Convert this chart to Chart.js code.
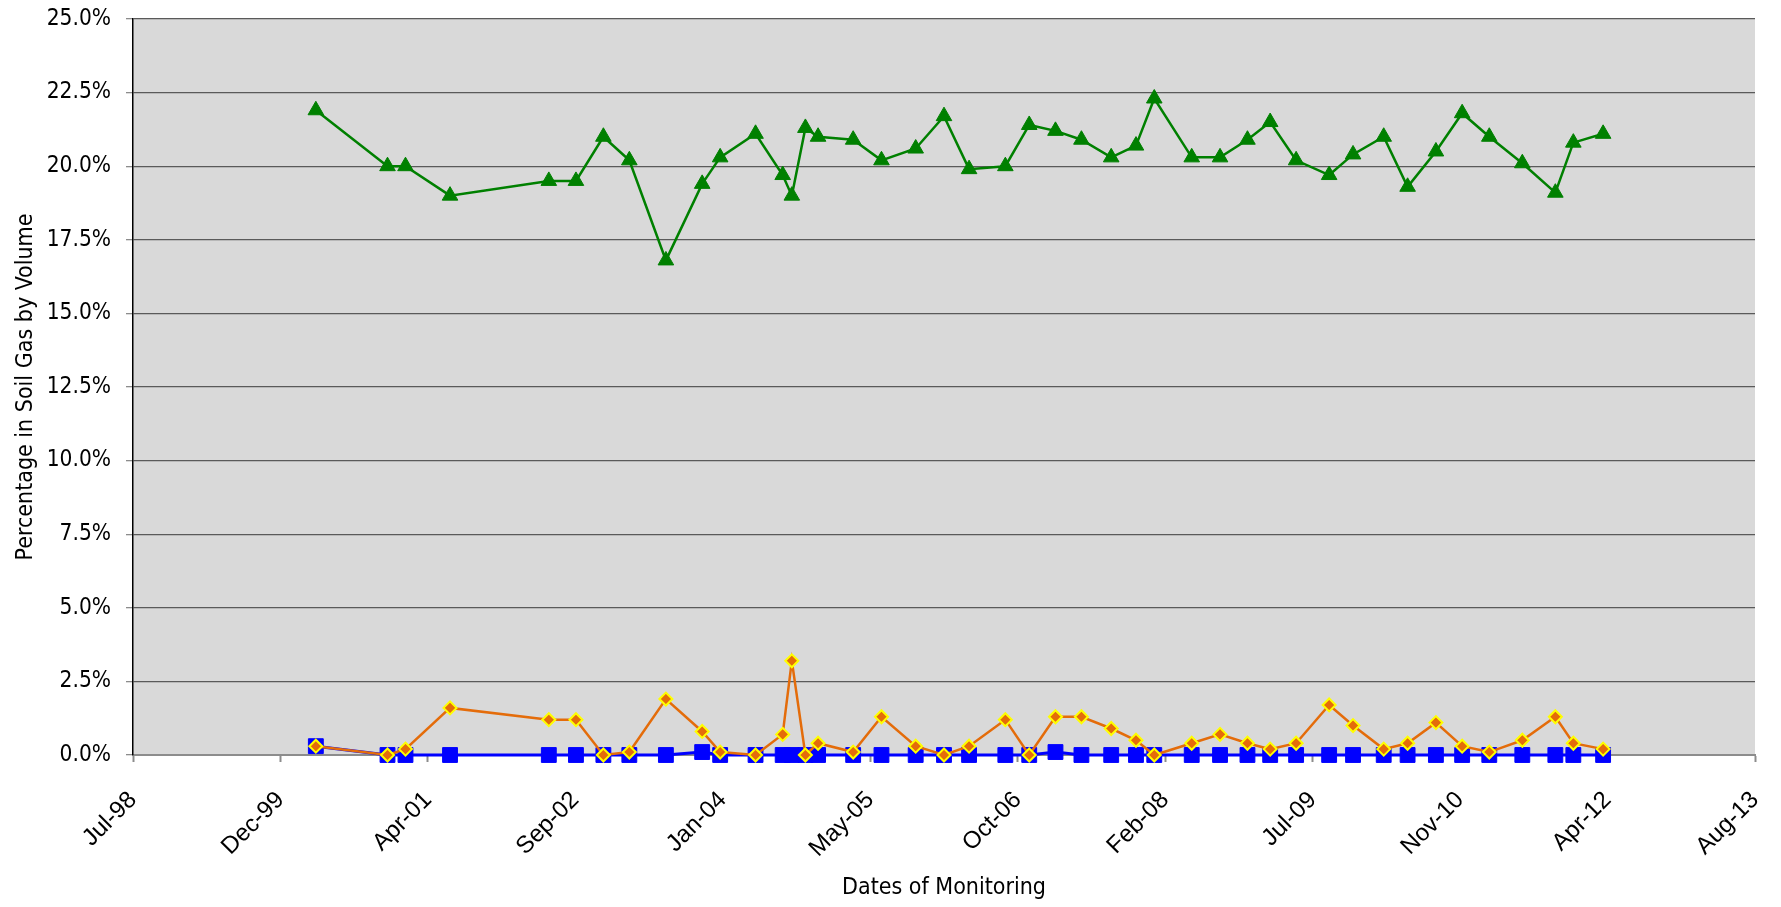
<!DOCTYPE html>
<html>
<head>
<meta charset="utf-8">
<script src="https://cdn.jsdelivr.net/npm/chart.js@4.4.1/dist/chart.umd.min.js"></script>
<style>
  html, body { margin: 0; padding: 0; background: #fff; }
  canvas { display: block; }
</style>
</head>
<body>
<canvas id="myChart" width="1781" height="907"></canvas>
<script>
// monitoring dates
const dates = [
    "2000-04-04", "2000-12-03", "2001-02-02", "2001-07-03", "2002-06-03", "2002-09-03",
    "2002-12-05", "2003-03-03", "2003-07-05", "2003-11-05", "2004-01-05", "2004-05-04",
    "2004-08-04", "2004-09-04", "2004-10-20", "2004-12-02", "2005-03-31", "2005-07-05",
    "2005-10-29", "2006-02-02", "2006-04-28", "2006-08-29", "2006-11-18", "2007-02-15",
    "2007-05-14", "2007-08-23", "2007-11-15", "2008-01-16", "2008-05-22", "2008-08-26",
    "2008-11-27", "2009-02-12", "2009-05-11", "2009-08-31", "2009-11-20", "2010-03-04",
    "2010-05-24", "2010-08-28", "2010-11-25", "2011-02-25", "2011-06-17", "2011-10-07",
    "2011-12-07", "2012-03-17"
];
// percent by volume
const oxygen = [
    21.9, 20.0, 20.0, 19.0, 19.5, 19.5, 21.0, 20.2, 16.8, 19.4, 20.3, 21.1,
    19.7, 19.0, 21.3, 21.0, 20.9, 20.2, 20.6, 21.7, 19.9, 20.0, 21.4, 21.2,
    20.9, 20.3, 20.7, 22.3, 20.3, 20.3, 20.9, 21.5, 20.2, 19.7, 20.4, 21.0,
    19.3, 20.5, 21.8, 21.0, 20.1, 19.1, 20.8, 21.1
];
const carbonDioxide = [
    0.3, 0.0, 0.2, 1.6, 1.2, 1.2, 0.0, 0.1, 1.9, 0.8, 0.1, 0.0,
    0.7, 3.2, 0.0, 0.4, 0.1, 1.3, 0.3, 0.0, 0.3, 1.2, 0.0, 1.3,
    1.3, 0.9, 0.5, 0.0, 0.4, 0.7, 0.4, 0.2, 0.4, 1.7, 1.0, 0.2,
    0.4, 1.1, 0.3, 0.1, 0.5, 1.3, 0.4, 0.2
];
const methane = [
    0.3, 0.0, 0.0, 0.0, 0.0, 0.0, 0.0, 0.0, 0.0, 0.1, 0.0, 0.0,
    0.0, 0.0, 0.0, 0.0, 0.0, 0.0, 0.0, 0.0, 0.0, 0.0, 0.0, 0.1,
    0.0, 0.0, 0.0, 0.0, 0.0, 0.0, 0.0, 0.0, 0.0, 0.0, 0.0, 0.0,
    0.0, 0.0, 0.0, 0.0, 0.0, 0.0, 0.0, 0.0
];
// x axis runs on spreadsheet day numbers, Jul-98 .. Aug-13 every 500 days
const xMin = 36000, xMax = 41500, xStep = 500;
const yMin = 0, yMax = 25, yStep = 2.5;
const months = ["Jan", "Feb", "Mar", "Apr", "May", "Jun", "Jul", "Aug", "Sep", "Oct", "Nov", "Dec"];

const EPOCH = Date.UTC(1899, 11, 30);
const toSerial = (s) => Math.round((Date.parse(s) - EPOCH) / 86400000);
const serialLabel = (v) => {
    const d = new Date(EPOCH + v * 86400000);
    return months[d.getUTCMonth()] + "-" + String(d.getUTCFullYear() % 100).padStart(2, "0");
};
const pts = (vals) => vals.map((v, i) => ({ x: toSerial(dates[i]), y: v }));

const narrow = "'Liberation Sans Narrow', 'DejaVu Sans Condensed', sans-serif";
const sans = "'Liberation Sans', Arial, sans-serif";

const plotBg = {
    id: "plotBg",
    beforeDraw(chart) {
        const a = chart.chartArea, ctx = chart.ctx;
        ctx.save();
        ctx.fillStyle = "#d9d9d9";
        ctx.fillRect(a.left, a.top, a.right - a.left, a.bottom - a.top);
        ctx.restore();
    }
};

new Chart("myChart", {
    type: "scatter",
    data: {
        datasets: [
            {
                label: "Oxygen",
                data: pts(oxygen),
                showLine: true,
                borderColor: "#008000",
                borderWidth: 2.5,
                pointStyle: "triangle",
                pointRadius: 9,
                pointBackgroundColor: "#008000",
                pointBorderColor: "#008000",
                pointBorderWidth: 1,
                clip: false,
                order: 2
            },
            {
                label: "Carbon Dioxide",
                data: pts(carbonDioxide),
                showLine: true,
                borderColor: "#e46c0a",
                borderWidth: 2.5,
                pointStyle: "rectRot",
                pointRadius: 6.5,
                pointBackgroundColor: "#e46c0a",
                pointBorderColor: "#ffff00",
                pointBorderWidth: 2,
                clip: false,
                order: 0
            },
            {
                label: "Methane",
                data: pts(methane),
                showLine: true,
                borderColor: "#0000ff",
                borderWidth: 3,
                pointStyle: "rect",
                pointRadius: 10.5,
                pointBackgroundColor: "#0000ff",
                pointBorderColor: "#0000ff",
                pointBorderWidth: 1,
                clip: false,
                order: 1
            }
        ]
    },
    options: {
        responsive: false,
        animation: false,
        events: [],
        layout: { padding: { top: 19, right: 26, left: 0, bottom: 0 } },
        plugins: {
            legend: { display: false },
            tooltip: { enabled: false }
        },
        scales: {
            x: {
                type: "linear",
                min: xMin,
                max: xMax,
                afterFit: (s) => {
                    s.height = 152;
                    s.paddingLeft = 0;
                    s.paddingRight = 0;
                },
                afterBuildTicks: (s) => {
                    s.ticks = [];
                    for (let v = xMin; v <= xMax; v += xStep) s.ticks.push({ value: v });
                },
                ticks: {
                    autoSkip: false,
                    maxRotation: 45,
                    minRotation: 45,
                    padding: 24,
                    color: "#000",
                    font: { family: sans, size: 24 },
                    callback: (v) => serialLabel(v)
                },
                grid: {
                    drawOnChartArea: false,
                    drawTicks: true,
                    tickLength: 7,
                    tickColor: "#8c8c8c",
                    tickWidth: 2
                },
                border: { color: "#8c8c8c", width: 2 },
                title: {
                    display: true,
                    text: "Dates of Monitoring",
                    color: "#000",
                    font: { family: narrow, size: 23 },
                    padding: { top: 0, bottom: 5 }
                }
            },
            y: {
                min: yMin,
                max: yMax,
                afterFit: (s) => {
                    s.width = 133;
                    s.paddingTop = 0;
                    s.paddingBottom = 0;
                },
                ticks: {
                    stepSize: yStep,
                    padding: 15,
                    color: "#000",
                    font: { family: narrow, size: 22.5 },
                    callback: (v) => v.toFixed(1) + "%"
                },
                grid: {
                    color: "#5a5a5a",
                    lineWidth: 1.3,
                    tickLength: 7,
                    tickColor: "#8c8c8c"
                },
                border: { color: "#000", width: 1.5 },
                title: {
                    display: true,
                    text: "Percentage in Soil Gas by Volume",
                    color: "#000",
                    font: { family: narrow, size: 23 },
                    padding: { top: 12, bottom: 0 }
                }
            }
        }
    },
    plugins: [plotBg]
});
</script>
</body>
</html>
